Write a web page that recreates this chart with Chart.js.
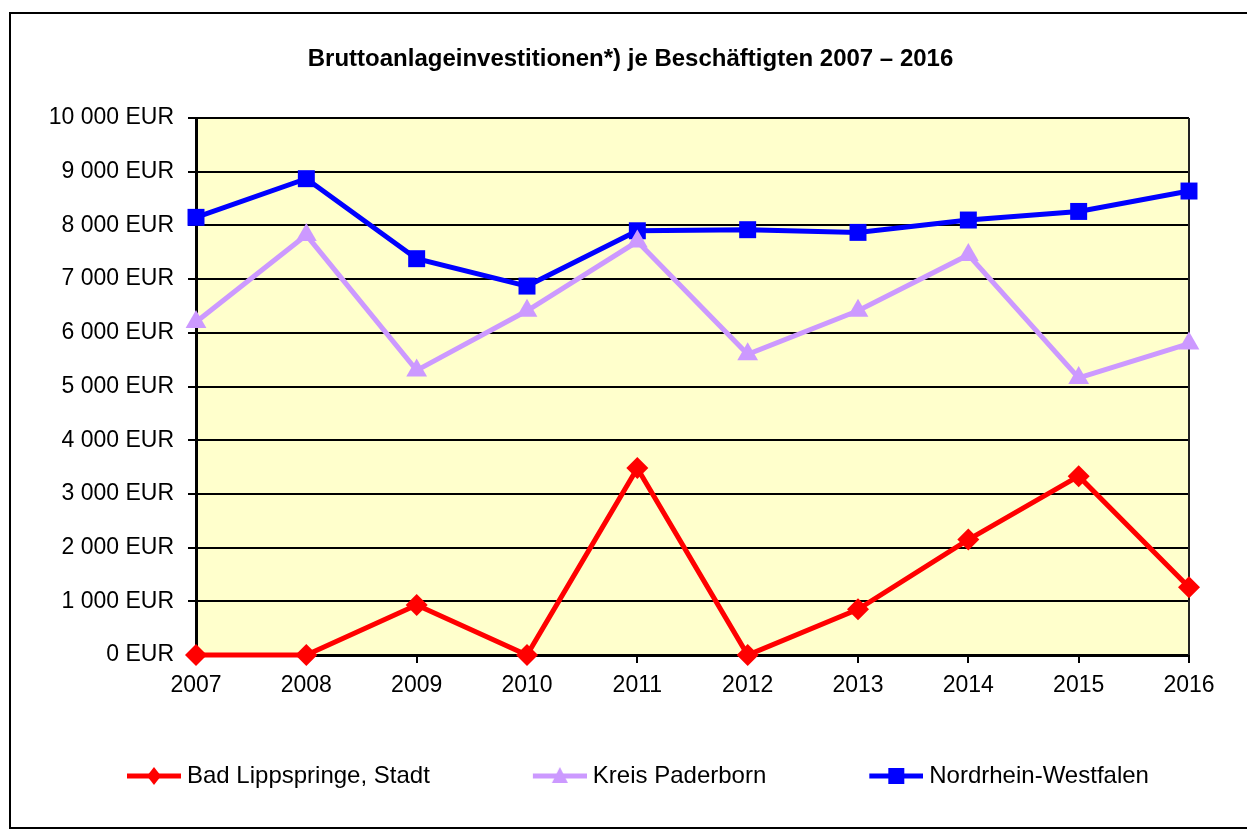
<!DOCTYPE html>
<html>
<head>
<meta charset="utf-8">
<title>Bruttoanlageinvestitionen je Beschäftigten</title>
<script src="https://cdn.jsdelivr.net/npm/chart.js@4/dist/chart.umd.min.js"></script>
<style>
  html, body { margin: 0; padding: 0; background: #fff; }
  #wrap { width: 1247px; height: 830px; }
</style>
</head>
<body>
<div id="wrap"><canvas id="chart" width="1247" height="830"></canvas></div>
<script>
// data
const years = ['2007', '2008', '2009', '2010', '2011', '2012', '2013', '2014', '2015', '2016'];
const badLippspringe = [0, 0, 930, 0, 3480, 0, 850, 2150, 3330, 1260];
const kreisPaderborn = [6200, 7820, 5300, 6410, 7700, 5600, 6410, 7450, 5160, 5800];
const nordrheinWestfalen = [8150, 8870, 7380, 6870, 7900, 7920, 7870, 8100, 8260, 8640];
const seriesNames = ['Bad Lippspringe, Stadt', 'Kreis Paderborn', 'Nordrhein-Westfalen'];
const yMin = 0;
const yMax = 10000;
const yStep = 1000;

const fontFamily = "'Liberation Sans', Arial, sans-serif";
const colors = ['#ff0000', '#cc99ff', '#0000ff'];
const markers = ['rectRot', 'triangle', 'rect'];
const markerRadius = { rectRot: 11, triangle: 12, rect: 12 };

const formatEur = function (v) {
  return String(v).replace(/\B(?=(\d{3})+(?!\d))/g, ' ') + ' EUR';
};

// legend symbol: short line with the marker in the middle, drawn at the right of a wide canvas
const legendSymbol = function (color, marker) {
  const c = document.createElement('canvas');
  c.width = 153;
  c.height = 24;
  const ctx = c.getContext('2d');
  const x0 = 99, x1 = 153, y = 12, mx = (x0 + x1) / 2;
  ctx.strokeStyle = color;
  ctx.lineWidth = 5;
  ctx.beginPath();
  ctx.moveTo(x0, y);
  ctx.lineTo(x1, y);
  ctx.stroke();
  ctx.fillStyle = color;
  ctx.beginPath();
  if (marker === 'rect') {
    ctx.rect(mx - 8, y - 8, 16, 16);
  } else if (marker === 'triangle') {
    ctx.moveTo(mx, y - 9);
    ctx.lineTo(mx + 8, y + 7);
    ctx.lineTo(mx - 8, y + 7);
    ctx.closePath();
  } else {
    ctx.moveTo(mx, y - 9);
    ctx.lineTo(mx + 7, y);
    ctx.lineTo(mx, y + 9);
    ctx.lineTo(mx - 7, y);
    ctx.closePath();
  }
  ctx.fill();
  return c;
};

const framePlugin = {
  id: 'frame',
  beforeDraw(chart) {
    const ctx = chart.ctx;
    const a = chart.chartArea;
    ctx.save();
    ctx.fillStyle = '#ffffff';
    ctx.fillRect(0, 0, chart.width, chart.height);
    // outer border (right edge lies outside the picture)
    ctx.strokeStyle = '#000';
    ctx.lineWidth = 2;
    ctx.strokeRect(10, 13, 1250, 815);
    // plot area background
    ctx.fillStyle = '#ffffcc';
    ctx.fillRect(a.left, a.top, a.right - a.left, a.bottom - a.top);
    ctx.restore();
  },
  beforeDatasetsDraw(chart) {
    const ctx = chart.ctx;
    const a = chart.chartArea;
    ctx.save();
    ctx.strokeStyle = '#222';
    ctx.lineWidth = 2;
    ctx.beginPath();
    ctx.moveTo(a.right, a.top);
    ctx.lineTo(a.right, a.bottom);
    ctx.stroke();
    ctx.restore();
  },
};

const makeDataset = function (i, values) {
  return {
    label: seriesNames[i],
    data: values,
    borderColor: colors[i],
    backgroundColor: colors[i],
    borderWidth: 5,
    pointStyle: markers[i],
    pointRadius: markerRadius[markers[i]],
    pointBorderWidth: 0,
    pointBackgroundColor: colors[i],
    tension: 0,
    clip: false,
  };
};

const init = function () {
  const canvas = document.querySelector('#chart');
  new Chart(canvas, {
    type: 'line',
    data: {
      labels: years,
      datasets: [
        makeDataset(0, badLippspringe),
        makeDataset(1, kreisPaderborn),
        makeDataset(2, nordrheinWestfalen),
      ],
    },
    plugins: [framePlugin],
    options: {
      responsive: false,
      animation: false,
      events: [],
      layout: {
        padding: { left: 24, right: 10, top: 13, bottom: 32 },
      },
      plugins: {
        title: {
          display: true,
          text: 'Bruttoanlageinvestitionen*) je Beschäftigten 2007 – 2016',
          color: '#000',
          font: { family: fontFamily, size: 24, weight: 'bold', lineHeight: 1.2 },
          padding: { top: 32, bottom: 44.2 },
        },
        legend: {
          display: true,
          position: 'bottom',
          align: 'start',
          labels: {
            color: '#000',
            font: { family: fontFamily, size: 24 },
            usePointStyle: true,
            pointStyleWidth: 141,
            padding: 10,
            generateLabels(chart) {
              return chart.data.datasets.map((ds, i) => ({
                text: ds.label,
                pointStyle: legendSymbol(colors[i], markers[i]),
                fillStyle: colors[i],
                strokeStyle: colors[i],
                lineWidth: 0,
                fontColor: '#000',
                hidden: false,
                datasetIndex: i,
              }));
            },
          },
        },
        tooltip: { enabled: false },
      },
      scales: {
        x: {
          offset: false,
          grid: {
            drawOnChartArea: false,
            drawTicks: true,
            tickLength: 8,
            color: '#000',
            lineWidth: 2,
          },
          border: { display: true, color: '#000', width: 3 },
          ticks: {
            color: '#000',
            font: { family: fontFamily, size: 23 },
            padding: 9,
            maxRotation: 0,
            autoSkip: false,
          },
          afterFit(scale) {
            scale.height = 99;
          },
        },
        y: {
          min: yMin,
          max: yMax,
          grid: {
            color: '#000',
            lineWidth: 2,
            tickLength: 8,
          },
          border: { display: true, color: '#000', width: 3 },
          ticks: {
            stepSize: yStep,
            color: '#000',
            font: { family: fontFamily, size: 23 },
            padding: 14,
            callback: (v) => formatEur(v),
          },
          afterFit(scale) {
            scale.width = 172;
          },
        },
        y2: {
          position: 'right',
          display: true,
          grid: { display: false, drawTicks: false },
          border: { display: false },
          ticks: { display: false },
          afterFit(scale) {
            scale.width = 48;
          },
        },
      },
    },
  });
};

document.addEventListener('DOMContentLoaded', init);
</script>
</body>
</html>
